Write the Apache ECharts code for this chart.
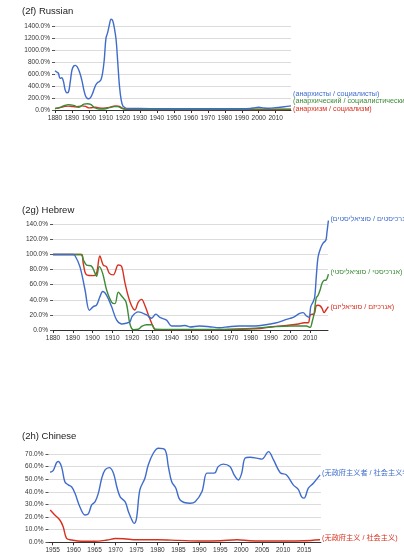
<!DOCTYPE html>
<html><head><meta charset="utf-8">
<script src="https://cdn.jsdelivr.net/npm/echarts@6/dist/echarts.min.js"></script>
<style>html,body{margin:0;padding:0;background:#fff}#c{width:404px;height:557px}</style>
</head><body><div id="c"></div>
<script>
// ---------- Panel (2f) Russian ----------
const ruBlueYears = [1880,1881,1882,1883,1884,1885,1886,1887,1888,1889,1890,1891,1892,1893,1894,1895,1896,1897,1898,1899,1900,1901,1902,1903,1904,1905,1906,1907,1908,1909,1910,1911,1912,1913,1914,1915,1916,1917,1918,1919,1920,1921,1922,1925,1930,1940,1950,1960,1970,1980,1990,1995,1998,2000,2003,2006,2010,2015,2019];
const ruBlueVals  = [661,638,616,532,543,476,336,291,308,476,672,739,750,728,672,588,476,336,235,196,190,213,269,347,420,459,476,504,616,840,1204,1300,1428,1524,1502,1372,1176,784,392,168,67,45,28,25,25,22,20,20,20,20,20,25,40,45,35,30,40,55,70];
const ruGreenYears = [1880,1883,1885,1888,1891,1894,1897,1899,1901,1903,1906,1909,1912,1915,1917,1919,1921,1925,1940,1960,1980,2000,2010,2019];
const ruGreenVals  = [22,45,67,90,78,45,100,106,95,45,17,17,39,56,56,34,17,14,12,12,12,14,14,15];
const ruRedYears = [1880,1883,1886,1888,1890,1892,1894,1896,1898,1900,1902,1904,1906,1908,1910,1912,1914,1916,1918,1920,1922,1930,1950,1970,1990,2010,2019];
const ruRedVals  = [25,40,60,65,60,55,60,70,60,35,40,45,35,30,35,45,60,70,60,25,12,8,8,8,8,8,10];
const ruNames = ['(анархисты / социалисты)','(анархический / социалистический)','(анархизм / социализм)'];
const ruYTicks = [0,200,400,600,800,1000,1200,1400];
const ruXTicks = [1880,1890,1900,1910,1920,1930,1940,1950,1960,1970,1980,1990,2000,2010];

// ---------- Panel (2g) Hebrew ----------
const heBlueYears = [1880,1890,1891,1893.6,1896.2,1898.4,1900.4,1902,1903.7,1905.1,1907.1,1909.6,1912.2,1914.7,1917,1918.9,1920,1923,1927.3,1929.8,1932,1934,1937.4,1940,1944,1946.7,1949.2,1954,1959,1964,1969,1974,1979,1984,1989.6,1993.8,1998,2001.4,2004.7,2006.4,2008.1,2009.4,2010.3,2011.5,2012.3,2013.2,2014,2015.2,2016.5,2017.9,2018.5,2019.2];
const heBlueVals  = [100,100,99,84,53,26,31,33,44,51,46,31,13,8,9,11,18,24,20,15.5,21,16.8,13,5.3,5.3,6,4,5.3,4.4,3,4.4,5.3,5.3,5.7,7.9,10,14,16.8,22,23,18.5,16.8,31,37.5,44,75,97,108,115,119,130,145];
const heGreenYears = [1880,1894,1895.5,1897,1899.3,1901.3,1902,1903.4,1905.1,1907.1,1909.6,1911.3,1913,1914.7,1916.9,1918.9,1920.6,1923,1925,1927.3,1930,1931.5,1935,1950,1965,1980,1990,2000,2008,2010,2011,2012,2013,2014,2015,2016,2017,2018,2019.2];
const heGreenVals  = [100,100,92,86,85,75,71,84,75,53,37,35,50,45,37,8,0.5,1,5,7,7,1,0.8,0.8,0.8,2.2,4,5.3,5.3,3.5,11,22,42,46,53,62,65.6,66,74];
const heRedYears = [1880,1894.5,1895.3,1897,1900.4,1902,1903.7,1905.4,1907,1908.5,1910.5,1913,1914.7,1916.4,1918.9,1921.4,1923.1,1924.8,1926.5,1928.2,1930.7,1932,1950,1970,1985,1990,2000,2004,2007,2009,2010,2011,2012,2013,2014,2015,2016,2017,2018,2019.2];
const heRedVals  = [100,100,88,73,72,75,98,86,84,75,73,86,84,62,37.5,26.5,37,40.6,32,20,4,0.5,0.5,0.8,2,4,6.6,8,9.7,9.7,19.9,20.8,21,31.8,32.7,32,28.7,23,26.5,31];
const heNames = ['(אנרכיסטים / סוציאליסטים)','(אנרכיסטי / סוציאליסטי)','(אנרכיזם / סוציאליזם)'];
const heYTicks = [0,20,40,60,80,100,120,140];
const heXTicks = [1880,1890,1900,1910,1920,1930,1940,1950,1960,1970,1980,1990,2000,2010];

// ---------- Panel (2h) Chinese ----------
const zhBlueYears = [1954.4,1955.1,1955.9,1956.3,1957.1,1957.9,1958.7,1959.5,1960.3,1961.5,1962.7,1963.5,1964.3,1965.1,1965.9,1966.7,1967.5,1968.5,1969.5,1970.3,1971.1,1972.3,1973.1,1973.9,1974.4,1975,1975.8,1977,1977.8,1979,1980.2,1981.8,1982.6,1983.4,1984.4,1985.4,1987.8,1989,1990.6,1991.8,1993,1993.7,1994.5,1995.7,1997.3,1998.3,1999.3,2000.1,2000.9,2002.1,2003.7,2004.9,2006.5,2007.7,2009.3,2010.8,2012.4,2013.6,2014.4,2015,2016,2017.2,2018.8];
const zhBlueVals  = [55.5,56.8,63,64,60,48,45.5,44,39,28,21.7,22.5,29.6,32,39,50.8,57.4,59.2,54.8,44,36,32,24,17.7,15,19,41.5,50.8,61.3,70.6,74.6,73.3,60,48,42.9,33.6,31,32.2,40,54.8,54.8,55,60,62,60,53.4,49.4,54.8,66.7,67.4,66.7,65.9,71.9,65.3,55.2,53.4,45.5,42,36,35,42.9,46.8,53.4];
const zhRedYears = [1954.4,1955.5,1956.7,1957.5,1958.3,1959.5,1961,1963,1965,1968,1970,1972,1975,1980,1985,1990,1995,1999,2002,2005,2010,2015,2018.8];
const zhRedVals  = [25.6,21.7,17.7,12.4,3.2,1.8,1,0.8,0.8,1.8,3,2.8,2,2,1.5,1,1.2,2,1.2,1,1,1.2,2];
const zhNames = ['(无政府主义者 / 社会主义者)','(无政府主义 / 社会主义)'];
const zhYTicks = [0,10,20,30,40,50,60,70];
const zhXTicks = [1955,1960,1965,1970,1975,1980,1985,1990,1995,2000,2005,2010,2015];

const BLUE = '#3f6ccb', RED = '#d8301f', GREEN = '#3d8a37';
const FONT = 'Liberation Sans, Arial, "Noto Sans CJK SC", sans-serif';
const pair = (ys, vs) => ys.map((y, i) => [y, vs[i]]);

function xAx(gi, min, max, ticks) {
  return {
    type: 'value', gridIndex: gi, min: min, max: max,
    axisLine: { show: true, lineStyle: { color: '#333', width: 1 } },
    axisTick: { show: true, length: 3, customValues: ticks, lineStyle: { color: '#333' } },
    axisLabel: { customValues: ticks, fontSize: 6.5, color: '#333', margin: 5, fontFamily: FONT,
      formatter: v => String(v) },
    splitLine: { show: false }
  };
}
function yAx(gi, max, interval) {
  return {
    type: 'value', gridIndex: gi, min: 0, max: max, interval: interval,
    axisLine: { show: false },
    axisTick: { show: true, length: 3, lineStyle: { color: '#555' } },
    axisLabel: { fontSize: 6.5, color: '#333', margin: 5, fontFamily: FONT,
      formatter: v => v.toFixed(1) + '%' },
    splitLine: { show: true, lineStyle: { color: '#dcdcdc', width: 1 } }
  };
}
function ser(name, data, color, gi, dy) {
  return {
    type: 'line', name: name, data: data, xAxisIndex: gi, yAxisIndex: gi,
    smooth: 0.35, symbol: 'none', clip: false,
    lineStyle: { color: color, width: 1.4 }, itemStyle: { color: color },
    emphasis: { disabled: true },
    endLabel: { show: true, formatter: name, color: color, fontSize: 7.2, fontFamily: FONT,
      distance: 2, offset: [0, dy] }
  };
}

const chart = echarts.init(document.getElementById('c'), null, { renderer: 'canvas' });
chart.setOption({
  animation: false,
  backgroundColor: '#fff',
  title: [
    { text: '(2f) Russian', left: 22, top: 7, padding: 0, textStyle: { fontSize: 9.5, fontWeight: 'normal', color: '#222', fontFamily: FONT } },
    { text: '(2g) Hebrew', left: 22, top: 206, padding: 0, textStyle: { fontSize: 9.5, fontWeight: 'normal', color: '#222', fontFamily: FONT } },
    { text: '(2h) Chinese', left: 22, top: 432, padding: 0, textStyle: { fontSize: 9.5, fontWeight: 'normal', color: '#222', fontFamily: FONT } }
  ],
  grid: [
    { left: 55, top: 26.7, width: 236, height: 83.3 },
    { left: 53, top: 224.3, width: 275, height: 105.7 },
    { left: 48.5, top: 454, width: 272.4, height: 88.3 }
  ],
  xAxis: [xAx(0, 1880, 2019, ruXTicks), xAx(1, 1880, 2019, heXTicks), xAx(2, 1954, 2019, zhXTicks)],
  yAxis: [yAx(0, 1400, 200), yAx(1, 140, 20), yAx(2, 70, 10)],
  series: [
    ser(ruNames[2], pair(ruRedYears, ruRedVals), RED, 0, 0),
    ser(ruNames[1], pair(ruGreenYears, ruGreenVals), GREEN, 0, -8),
    ser(ruNames[0], pair(ruBlueYears, ruBlueVals), BLUE, 0, -11.5),
    ser(heNames[2], pair(heRedYears, heRedVals), RED, 1, 0),
    ser(heNames[1], pair(heGreenYears, heGreenVals), GREEN, 1, -2),
    ser(heNames[0], pair(heBlueYears, heBlueVals), BLUE, 1, -1.5),
    ser(zhNames[1], pair(zhRedYears, zhRedVals), RED, 2, -2),
    ser(zhNames[0], pair(zhBlueYears, zhBlueVals), BLUE, 2, -2)
  ]
});
</script></body></html>
